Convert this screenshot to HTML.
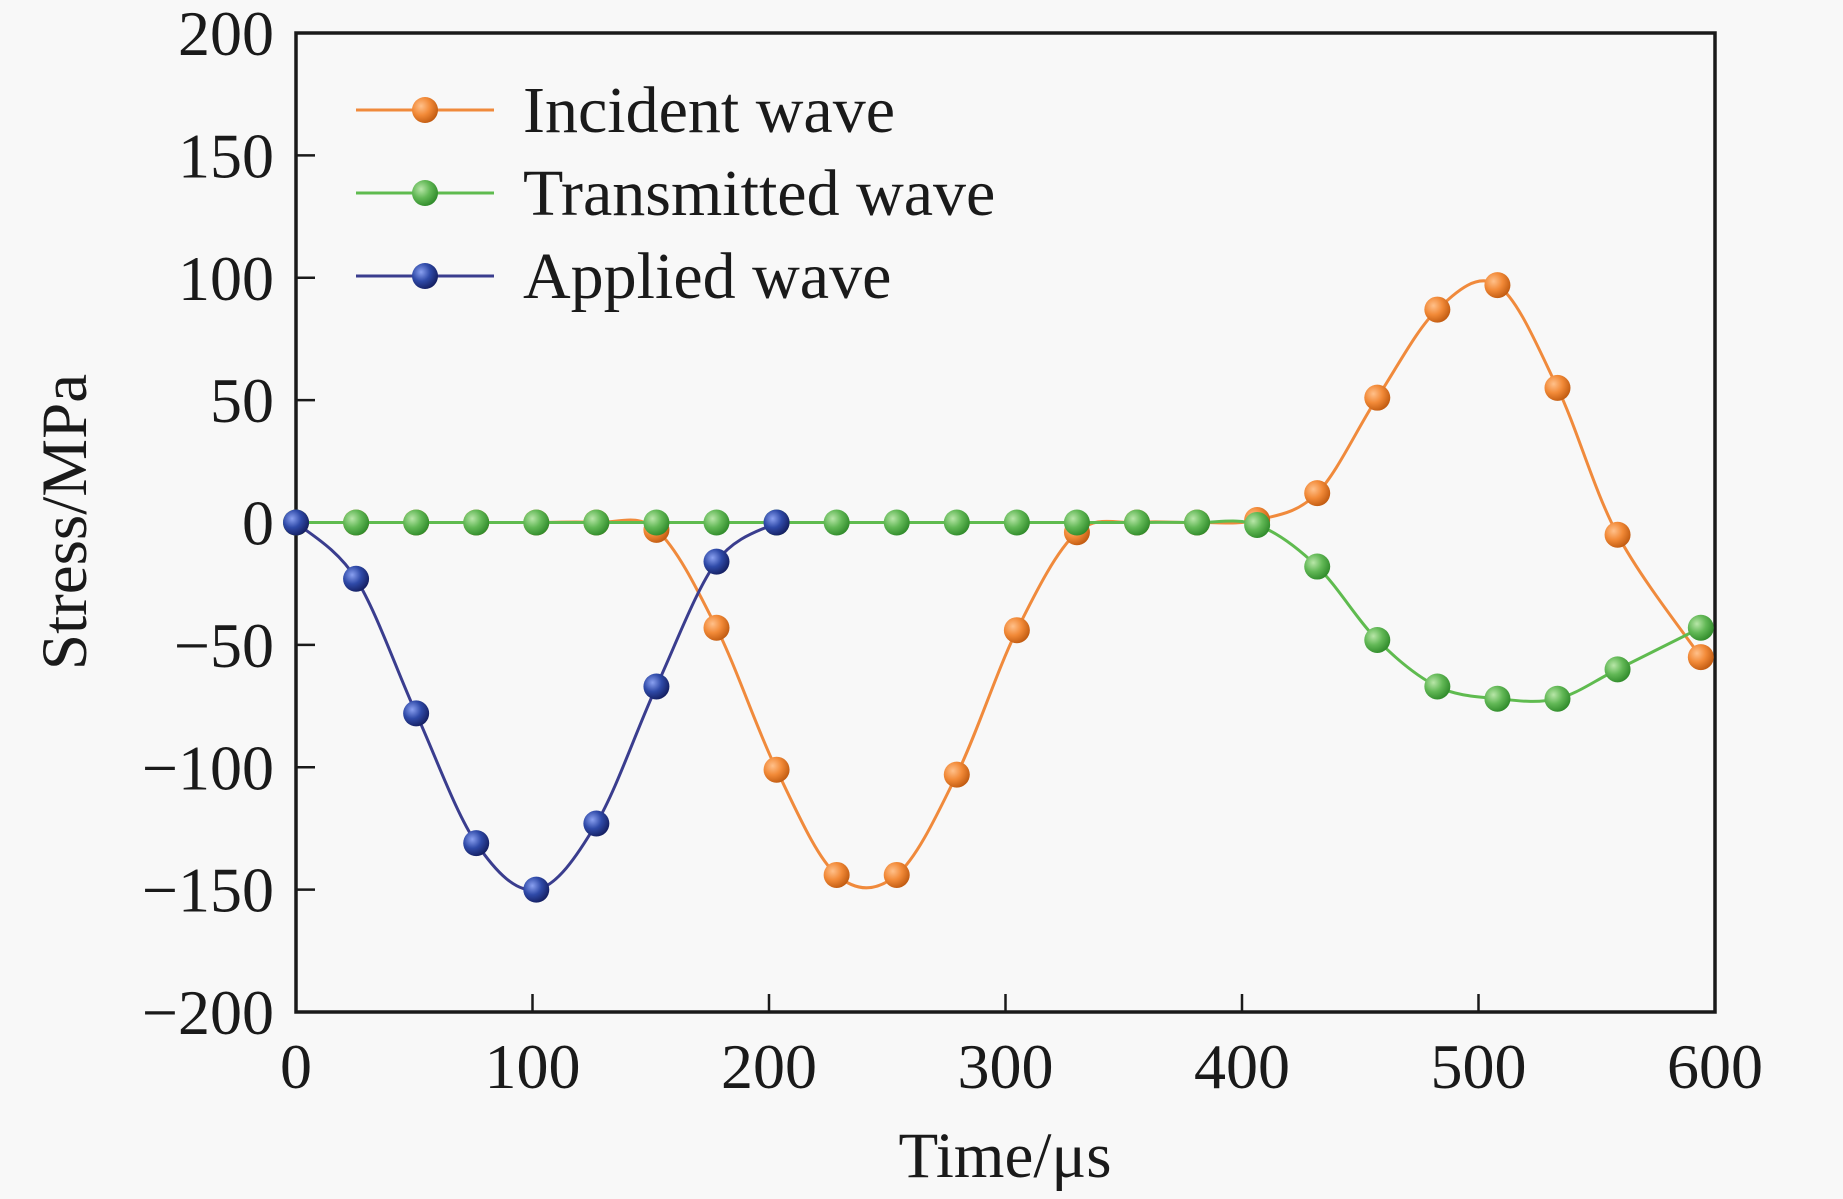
<!DOCTYPE html>
<html><head><meta charset="utf-8"><style>
html,body{margin:0;padding:0;background:#f8f8f8;}
svg{display:block;font-family:"Liberation Serif",serif;}
</style></head><body>
<svg id="chart" width="1843" height="1199" viewBox="0 0 1843 1199" xmlns="http://www.w3.org/2000/svg">
<defs>
<radialGradient id="gO" cx="0.35" cy="0.35" r="0.7"><stop offset="0" stop-color="#ffc08a"/><stop offset="0.5" stop-color="#f28a38"/><stop offset="1" stop-color="#c05a10"/></radialGradient>
<radialGradient id="gG" cx="0.35" cy="0.35" r="0.7"><stop offset="0" stop-color="#b8e6a8"/><stop offset="0.5" stop-color="#62b856"/><stop offset="1" stop-color="#2f8a2a"/></radialGradient>
<radialGradient id="gB" cx="0.35" cy="0.35" r="0.7"><stop offset="0" stop-color="#8aa0f0"/><stop offset="0.5" stop-color="#2f4aa8"/><stop offset="1" stop-color="#141e60"/></radialGradient>
</defs>
<g id="plot"></g>
</svg>
<script>
const xTicks=[0,100,200,300,400,500,600];
const yTicks=[200,150,100,50,0,-50,-100,-150,-200];
const appliedT=[0,25.4,50.8,76.2,101.6,127,152.4,177.8,203.2];
const appliedV=[0,-23,-78,-131,-150,-123,-67,-16,0];
const incidentT=[0,25.4,50.8,76.2,101.6,127,152.4,177.8,203.2,228.6,254,279.4,304.8,330.2,355.6,381,406.4,431.8,457.2,482.6,508,533.4,558.8,594];
const incidentV=[0,0,0,0,0,0,-3,-43,-101,-144,-144,-103,-44,-4,0,0,1,12,51,87,97,55,-5,-55];
const transT=[0,25.4,50.8,76.2,101.6,127,152.4,177.8,203.2,228.6,254,279.4,304.8,330.2,355.6,381,406.4,431.8,457.2,482.6,508,533.4,558.8,594];
const transV=[0,0,0,0,0,0,0,0,0,0,0,0,0,0,0,0,-1,-18,-48,-67,-72,-72,-60,-43];

const L=296,R=1715,T=33,B=1012;
const sx=t=>L+(t-0)/(600-0)*(R-L);
const sy=v=>T+(200-v)/400*(B-T);
const NS="http://www.w3.org/2000/svg";
const g=document.getElementById('plot');
function mk(tag,attrs,parent){const e=document.createElementNS(NS,tag);for(const k in attrs)e.setAttribute(k,attrs[k]);(parent||g).appendChild(e);return e;}
function spline(ts,vs){
  const p=ts.map((t,i)=>[sx(t),sy(vs[i])]);
  let d=`M${p[0][0]},${p[0][1]}`;
  for(let i=0;i<p.length-1;i++){
    const p0=p[i-1]||p[i],p1=p[i],p2=p[i+1],p3=p[i+2]||p2;
    const c1=[p1[0]+(p2[0]-p0[0])/6,p1[1]+(p2[1]-p0[1])/6];
    const c2=[p2[0]-(p3[0]-p1[0])/6,p2[1]-(p3[1]-p1[1])/6];
    d+=` C${c1[0]},${c1[1]} ${c2[0]},${c2[1]} ${p2[0]},${p2[1]}`;
  }
  return d;
}
const fr=mk('rect',{x:L,y:T,width:R-L,height:B-T,fill:'none',stroke:'#1a1a1a','stroke-width':3.5});


xTicks.forEach(t=>{
  const ln=mk('line',{x1:sx(t),x2:sx(t),y1:B,y2:B-18,stroke:'#1a1a1a','stroke-width':2.5});
  
  
  const tx=mk('text',{x:sx(t),y:1088,'text-anchor':'middle','font-size':64,fill:'#1a1a1a'});
  tx.textContent=t;
  
  
});
yTicks.forEach(v=>{
  const ln=mk('line',{x1:L,x2:L+19,y1:sy(v),y2:sy(v),stroke:'#1a1a1a','stroke-width':2.5});
  
  
  const tx=mk('text',{x:274,y:sy(v)+22,'text-anchor':'end','font-size':64,fill:'#1a1a1a'});
  tx.textContent=v<0?'\u2212'+(-v):v;
  
  
});
const xt=mk('text',{x:1005,y:1177,'text-anchor':'middle','font-size':65,fill:'#1a1a1a'});
xt.textContent='Time/\u03bcs';


const yt=mk('text',{x:0,y:0,'text-anchor':'middle','font-size':65,fill:'#1a1a1a',transform:'translate(86,522) rotate(-90)'});
yt.textContent='Stress/MPa';



const series=[
 {name:'incident',ts:incidentT,vs:incidentV,line:'#f08a3c',grad:'url(#gO)'},
 {name:'transmitted',ts:transT,vs:transV,line:'#5fbb4f',grad:'url(#gG)'},
 {name:'applied',ts:appliedT,vs:appliedV,line:'#3a3d8e',grad:'url(#gB)'}
];
series.forEach(s=>{
  const p=mk('path',{d:spline(s.ts,s.vs),fill:'none',stroke:s.line,'stroke-width':3});
  
  
  s.ts.forEach((t,i)=>{
    const c=mk('circle',{cx:sx(t),cy:sy(s.vs[i]),r:13,fill:s.grad});
    
    
  });
});
const labels=['Incident wave','Transmitted wave','Applied wave'];
const ly=[110,193,276];
series.forEach((s,i)=>{
  const ln=mk('line',{x1:356,x2:494,y1:ly[i],y2:ly[i],stroke:s.line,'stroke-width':3});
  
  
  const c=mk('circle',{cx:425,cy:ly[i],r:13,fill:s.grad});
  
  
  const tx=mk('text',{x:523,y:ly[i]+22,'font-size':66,fill:'#1a1a1a'});
  tx.textContent=labels[i];
  
  
});
</script>
</body></html>
